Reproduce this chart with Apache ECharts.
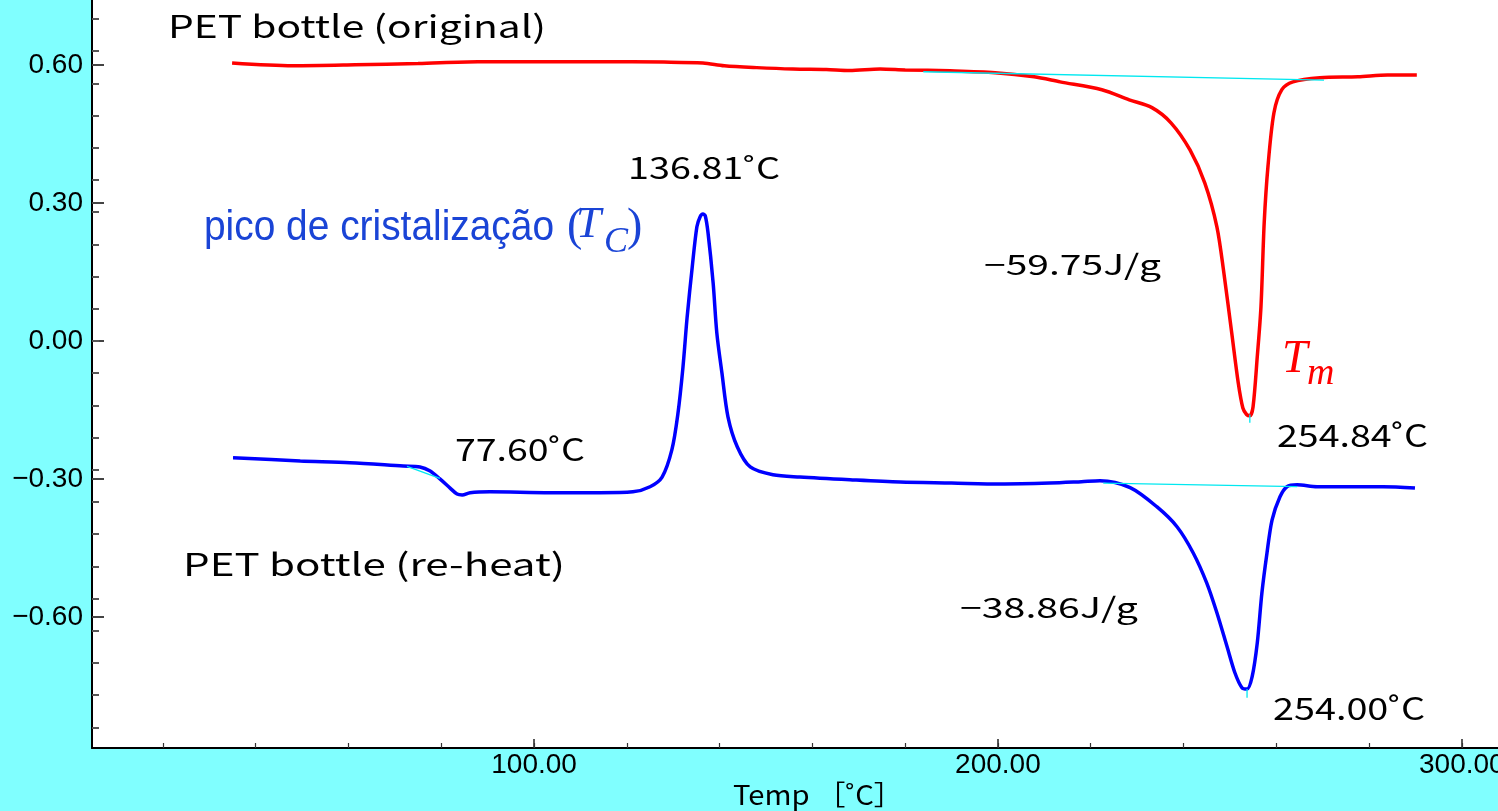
<!DOCTYPE html>
<html><head><meta charset="utf-8">
<script src="https://cdn.jsdelivr.net/npm/echarts@6/dist/echarts.min.js"></script>
<style>html,body{margin:0;padding:0;background:#80ffff;overflow:hidden}#c{width:1498px;height:811px}</style>
</head><body><div id="c"></div>
<script>
// ---- data ----
const origTemp = [34.9, 48.0, 61.4, 75.0, 87.9, 100.0, 114.4, 128.0, 136.4, 141.0, 148.0, 155.8, 163.0, 168.0, 174.6, 180.0, 189.7, 199.4, 207.8, 213.4, 222.4, 228.3, 233.2, 237.3, 241.4, 244.6, 247.2, 248.7, 250.4, 251.8, 252.8, 253.6, 254.3, 255.0, 255.9, 256.7, 257.4, 258.2, 259.5, 261.2, 263.6, 269.4, 277.6, 284.0, 290.3];
const origHeat = [0.604, 0.598, 0.600, 0.603, 0.607, 0.607, 0.607, 0.606, 0.604, 0.598, 0.594, 0.591, 0.590, 0.588, 0.591, 0.589, 0.587, 0.583, 0.574, 0.563, 0.546, 0.524, 0.507, 0.474, 0.415, 0.343, 0.248, 0.148, 0.017, -0.091, -0.146, -0.160, -0.163, -0.143, -0.035, 0.074, 0.257, 0.378, 0.496, 0.546, 0.563, 0.572, 0.574, 0.578, 0.578];

const reheatTemp = [35.1, 49.6, 60.3, 71.8, 75.4, 77.6, 79.7, 81.9, 83.4, 84.5, 86.2, 90.5, 103.4, 114.2, 121.3, 125.0, 127.6, 129.7, 131.0, 132.1, 133.0, 134.1, 135.1, 135.8, 136.4, 136.9, 137.5, 138.6, 139.4, 140.5, 141.8, 143.8, 146.6, 151.5, 157.3, 168.1, 178.9, 190.0, 200.5, 211.2, 218.0, 222.0, 228.5, 234.3, 238.6, 242.1, 245.0, 247.2, 249.4, 251.1, 252.6, 253.7, 254.8, 255.9, 256.9, 258.0, 259.1, 260.8, 262.3, 264.5, 268.8, 275.9, 283.0, 289.9];
const reheatHeat = [-0.254, -0.261, -0.265, -0.272, -0.274, -0.283, -0.300, -0.320, -0.333, -0.335, -0.330, -0.328, -0.330, -0.330, -0.328, -0.317, -0.296, -0.237, -0.159, -0.057, 0.052, 0.161, 0.248, 0.270, 0.276, 0.272, 0.235, 0.126, 0.017, -0.070, -0.165, -0.230, -0.274, -0.291, -0.296, -0.302, -0.307, -0.309, -0.311, -0.309, -0.306, -0.304, -0.319, -0.361, -0.404, -0.461, -0.526, -0.591, -0.665, -0.722, -0.754, -0.757, -0.730, -0.657, -0.548, -0.461, -0.389, -0.339, -0.317, -0.313, -0.317, -0.317, -0.317, -0.320];

const origBaseTemp = [183.9, 270.3];
const origBaseHeat = [0.585, 0.567];
const reheatBaseTemp = [222.7, 264.5];
const reheatBaseHeat = [-0.309, -0.317];
const tgTanTemp = [72.6, 79.7];
const tgTanHeat = [-0.273, -0.299];
const origPeakMarkTemp = [254.3, 254.3];
const origPeakMarkHeat = [-0.160, -0.178];
const reheatPeakMarkTemp = [253.7, 253.7];
const reheatPeakMarkHeat = [-0.757, -0.776];

const yTickLabels = [-0.6, -0.3, 0, 0.3, 0.6];
const yMinorTicks = [-0.84, -0.77, -0.70, -0.63, -0.56, -0.49, -0.42, -0.35, -0.28, -0.21, -0.14, -0.07, 0, 0.07, 0.14, 0.21, 0.28, 0.35, 0.42, 0.49, 0.56, 0.63, 0.70];
const xTickLabels = [100, 200, 300];
const xMinorTicks = [20, 40, 60, 80, 100, 120, 140, 160, 180, 200, 220, 240, 260, 280, 300];

const txtOrig = 'PET bottle (original)';
const txtReheat = 'PET bottle (re-heat)';
const txtTc = '136.81˚C';
const txtTg = '77.60˚C';
const txtTm1 = '254.84˚C';
const txtTm2 = '254.00˚C';
const txtH1 = '−59.75J/g';
const txtH2 = '−38.86J/g';
const txtPico = 'pico de cristalização';
const txtXName = 'Temp ［˚C］';

// ---- helpers ----
const zip = (a, b) => a.map((t, i) => [t, b[i]]);
const JP = "'Noto Sans CJK JP',sans-serif";
const SANS = "'Liberation Sans',Arial,sans-serif";
const SERIF = "'Liberation Serif','Times New Roman',serif";
const BLUE_TXT = '#1a44d6';
const mctx = document.createElement('canvas').getContext('2d');
function txt(text, left, cy, size, family, color, width, italic) {
  const fs = italic ? 'italic' : 'normal';
  mctx.font = fs + ' normal ' + size + 'px ' + family;
  const w = mctx.measureText(text).width;
  const sx = width ? width / w : 1;
  return {
    type: 'text', x: left, y: cy, scaleX: sx, silent: true, z: 100,
    style: { text: text, fontSize: size, fontFamily: family, fontStyle: fs, fill: color,
             textAlign: 'left', textVerticalAlign: 'middle' }
  };
}
const yFmt = v => (v < -1e-9 ? '−' : '') + Math.abs(v).toFixed(2);
const XMIN = 4.7, XMAX = 307.8, YMIN = -0.885, YMAX = 0.741;

const chart = echarts.init(document.getElementById('c'), null, { renderer: 'canvas' });
chart.setOption({
  animation: false,
  backgroundColor: '#80ffff',
  grid: { left: 92, right: 0, top: 0, bottom: 63, show: true, backgroundColor: '#ffffff',
          borderWidth: 0, containLabel: false, outerBoundsMode: 'none' },
  xAxis: [
    { type: 'value', min: XMIN, max: XMAX, position: 'bottom',
      axisLine: { show: true, onZero: false, lineStyle: { color: '#000', width: 2 } },
      axisTick: { show: true, inside: true, length: 9, customValues: xTickLabels,
                  lineStyle: { color: '#222', width: 1.5 } },
      axisLabel: { show: true, customValues: xTickLabels, formatter: v => v.toFixed(2),
                   color: '#000', fontSize: 28, fontFamily: SANS, margin: 3 },
      splitLine: { show: false } },
    { type: 'value', min: XMIN, max: XMAX, position: 'bottom',
      axisLine: { show: false, onZero: false },
      axisTick: { show: true, inside: true, length: 5, customValues: xMinorTicks,
                  lineStyle: { color: '#333', width: 1.2 } },
      axisLabel: { show: false }, splitLine: { show: false } }
  ],
  yAxis: [
    { type: 'value', min: YMIN, max: YMAX, position: 'left',
      axisLine: { show: true, onZero: false, lineStyle: { color: '#000', width: 2 } },
      axisTick: { show: true, inside: true, length: 12, customValues: yTickLabels,
                  lineStyle: { color: '#444', width: 2 } },
      axisLabel: { show: true, customValues: yTickLabels, formatter: yFmt,
                   color: '#000', fontSize: 28, fontFamily: SANS, margin: 9 },
      splitLine: { show: false } },
    { type: 'value', min: YMIN, max: YMAX, position: 'left',
      axisLine: { show: false, onZero: false },
      axisTick: { show: true, inside: true, length: 7, customValues: yMinorTicks,
                  lineStyle: { color: '#555', width: 2 } },
      axisLabel: { show: false }, splitLine: { show: false } }
  ],
  series: [
    { name: 'PET bottle (original)', type: 'line', data: zip(origTemp, origHeat),
      showSymbol: false, symbol: 'none', smooth: 0.3, lineStyle: { color: '#ff0000', width: 3.5 }, z: 3 },
    { name: 'PET bottle (re-heat)', type: 'line', data: zip(reheatTemp, reheatHeat),
      showSymbol: false, symbol: 'none', smooth: 0.3, lineStyle: { color: '#0000ff', width: 3.5 }, z: 3 },
    { type: 'line', data: zip(origBaseTemp, origBaseHeat), showSymbol: false, symbol: 'none',
      lineStyle: { color: '#00e8f0', width: 1.3 }, z: 4 },
    { type: 'line', data: zip(reheatBaseTemp, reheatBaseHeat), showSymbol: false, symbol: 'none',
      lineStyle: { color: '#00e8f0', width: 1.3 }, z: 4 },
    { type: 'line', data: zip(tgTanTemp, tgTanHeat), showSymbol: false, symbol: 'none',
      lineStyle: { color: '#00e8f0', width: 1.3 }, z: 4 },
    { type: 'line', data: zip(origPeakMarkTemp, origPeakMarkHeat), showSymbol: false, symbol: 'none',
      lineStyle: { color: '#00e8f0', width: 1.3 }, z: 4 },
    { type: 'line', data: zip(reheatPeakMarkTemp, reheatPeakMarkHeat), showSymbol: false, symbol: 'none',
      lineStyle: { color: '#00e8f0', width: 1.3 }, z: 4 }
  ],
  graphic: [
    txt(txtOrig, 168, 26.5, 31, JP, '#000', 378),
    txt(txtTc, 628, 168, 30, JP, '#000', 152),
    txt(txtPico, 204, 228, 42, SANS, BLUE_TXT, 350),
    txt('(', 567, 227.5, 46, SERIF, BLUE_TXT),
    txt('T', 576, 225, 45, SERIF, BLUE_TXT, null, true),
    txt('C', 604, 243, 36, SERIF, BLUE_TXT, null, true),
    txt(')', 627, 227.5, 46, SERIF, BLUE_TXT),
    txt(txtH1, 984, 264, 28, JP, '#000', 177),
    txt('T', 1282, 359.5, 46, SERIF, '#ff0000', null, true),
    txt('m', 1307, 374, 38, SERIF, '#ff0000', null, true),
    txt(txtTm1, 1277, 435, 31, JP, '#000', 151),
    txt(txtTg, 455, 449.5, 31, JP, '#000', 130),
    txt(txtReheat, 183, 564.5, 31, JP, '#000', 382),
    txt(txtH2, 960, 607, 28, JP, '#000', 178),
    txt(txtTm2, 1273, 708.5, 31, JP, '#000', 152),
    txt(txtXName, 733, 795, 27, JP, '#000', 170)
  ]
});
</script></body></html>
